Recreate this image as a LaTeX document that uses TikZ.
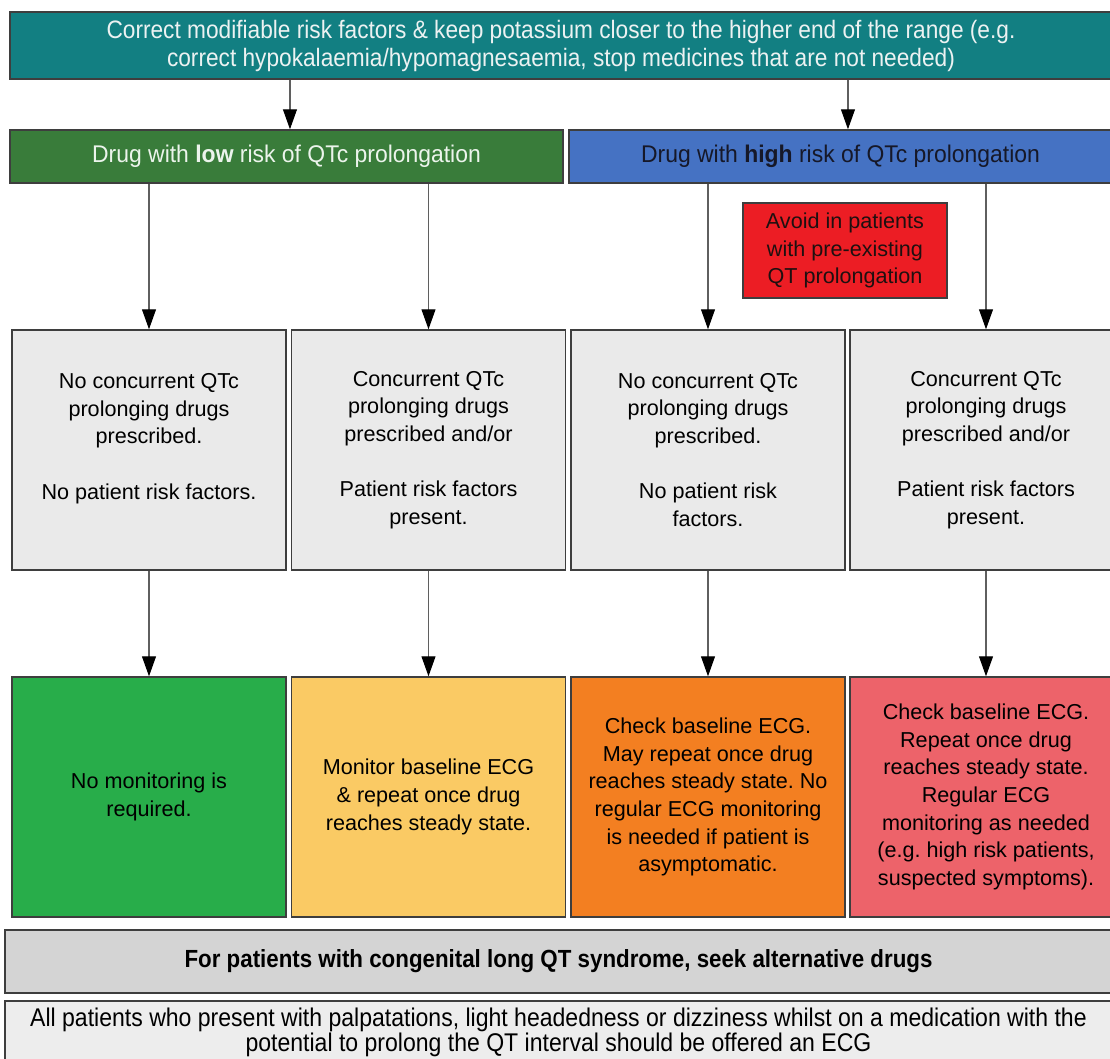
\documentclass[tikz,border=0pt]{standalone}
\usepackage{fontspec}
\setmainfont{Liberation Sans}
\newfontfamily\narrowfont[FakeStretch=0.9]{Liberation Sans}
\newfontfamily\headfont[FakeStretch=0.95]{Liberation Sans}
\usetikzlibrary{arrows.meta}
\frenchspacing

\begin{document}
\begin{tikzpicture}[x=0.75pt,y=0.75pt,yscale=-1,xscale=1,
  box/.style={draw={rgb, 255:red, 62; green, 62; blue, 62 },line width=1.1pt,inner sep=0pt,align=center,font=\fontsize{16.2}{20.75}\selectfont},
  cell/.style={box,minimum width=205.5pt,minimum height=180pt},
  head/.style={box,minimum height=39.75pt,font=\headfont\fontsize{18.1}{21}\selectfont},
  wide/.style={box,minimum width=830.25pt,font=\narrowfont\fontsize{19.2}{18.75}\selectfont},
  link/.style={draw={rgb, 255:red, 95; green, 95; blue, 95 },line width=0.8pt,-{Triangle[length=15pt,width=10.5pt,color=black]}}]
\useasboundingbox (0,0) rectangle (1110,1059);

%Shape: Rectangle [top]
\node[box,minimum width=826.5pt,minimum height=50.25pt,fill={rgb, 255:red, 18; green, 127; blue, 130 },text={rgb, 255:red, 236; green, 242; blue, 242 },font=\narrowfont\fontsize{18.9}{21}\selectfont] (top) at (561,45.5) {Correct modifiable risk factors \& keep potassium closer to the higher end of the range (e.g.\\correct hypokalaemia/hypomagnesaemia, stop medicines that are not needed)};

%Shape: Rectangle [low / high]
\node[head,minimum width=414.75pt,fill={rgb, 255:red, 57; green, 124; blue, 58 },text={rgb, 255:red, 236; green, 244; blue, 236 }] (low) at (286.5,156.5) {Drug with \textbf{low} risk of QTc prolongation};
\node[head,minimum width=407.25pt,fill={rgb, 255:red, 69; green, 114; blue, 195 },text={rgb, 255:red, 22; green, 24; blue, 40 }] (high) at (840.5,156.5) {Drug with \textbf{high} risk of QTc prolongation};

%Shape: Rectangle [avoid]
\node[box,minimum width=153pt,minimum height=71.25pt,fill={rgb, 255:red, 236; green, 29; blue, 36 },text={rgb, 255:red, 30; green, 16; blue, 16 }] (avoid) at (845,250.5) {Avoid in patients\\with pre-existing\\QT prolongation};

%Shape: Rectangle [middle row]
\node[cell,fill={rgb, 255:red, 234; green, 234; blue, 234 }] (a1) at (149,450) {No concurrent QTc\\prolonging drugs\\prescribed.\\[20.75pt]No patient risk factors.\\\mbox{}};
\node[cell,fill={rgb, 255:red, 234; green, 234; blue, 234 }] (a2) at (428.5,450) {Concurrent QTc\\prolonging drugs\\prescribed and/or\\[20.75pt]Patient risk factors\\present.};
\node[cell,fill={rgb, 255:red, 234; green, 234; blue, 234 }] (a3) at (708,450) {No concurrent QTc\\prolonging drugs\\prescribed.\\[20.75pt]No patient risk\\factors.};
\node[cell,minimum width=204pt,fill={rgb, 255:red, 234; green, 234; blue, 234 }] (a4) at (986,450) {Concurrent QTc\\prolonging drugs\\prescribed and/or\\[20.75pt]Patient risk factors\\present.};

%Shape: Rectangle [bottom row]
\node[cell,fill={rgb, 255:red, 40; green, 173; blue, 74 }] (b1) at (149,797) {No monitoring is\\required.};
\node[cell,fill={rgb, 255:red, 250; green, 202; blue, 100 }] (b2) at (428.5,797) {Monitor baseline ECG\\\& repeat once drug\\reaches steady state.};
\node[cell,fill={rgb, 255:red, 243; green, 127; blue, 33 }] (b3) at (708,797) {Check baseline ECG.\\May repeat once drug\\reaches steady state. No\\regular ECG monitoring\\is needed if patient is\\asymptomatic.};
\node[cell,minimum width=204pt,fill={rgb, 255:red, 237; green, 99; blue, 106 }] (b4) at (986,797) {Check baseline ECG.\\Repeat once drug\\reaches steady state.\\Regular ECG\\monitoring as needed\\(e.g. high risk patients,\\suspected symptoms).};

%Shape: Rectangle [bar / note]
\node[wide,minimum height=47.25pt,fill={rgb, 255:red, 212; green, 212; blue, 212 },font=\narrowfont\bfseries\fontsize{18.6}{21}\selectfont] (bar) at (558.5,961.5) {For patients with congenital long QT syndrome, seek alternative drugs};
\node[wide,minimum height=46.5pt,fill={rgb, 255:red, 237; green, 237; blue, 237 }] (note) at (558.5,1032) {All patients who present with palpatations, light headedness or dizziness whilst on a medication with the\\potential to prolong the QT interval should be offered an ECG};

%Straight Lines [arrows]
\coordinate (lowin) at ([xshift=2.6pt]low.north);
\coordinate (highin) at ([xshift=5.6pt]high.north);
\draw[link] (top.south -| lowin) -- (lowin);
\draw[link] (top.south -| highin) -- (highin);
\draw[link] (low.south -| a1.north) -- (a1.north);
\draw[link] (low.south -| a2.north) -- (a2.north);
\draw[link] (high.south -| a3.north) -- (a3.north);
\draw[link] (high.south -| a4.north) -- (a4.north);
\draw[link] (a1.south) -- (b1.north);
\draw[link] (a2.south) -- (b2.north);
\draw[link] (a3.south) -- (b3.north);
\draw[link] (a4.south) -- (b4.north);

\end{tikzpicture}
\end{document}
